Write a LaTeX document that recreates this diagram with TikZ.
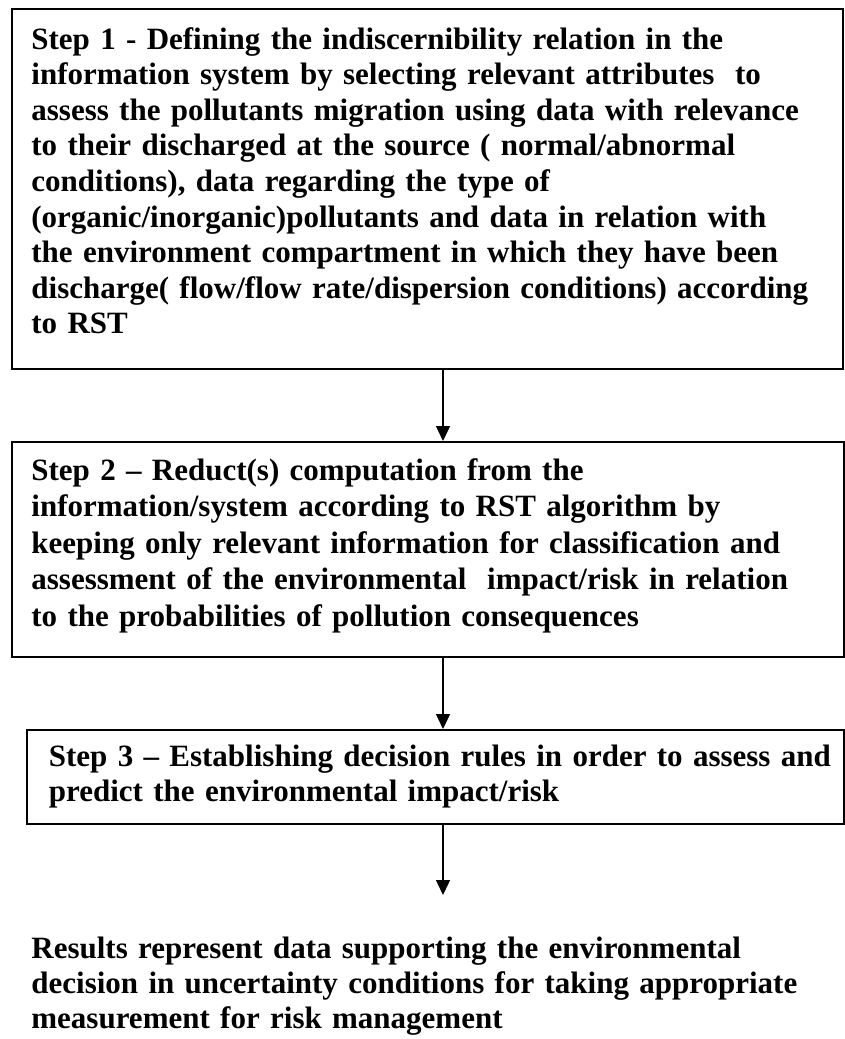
\documentclass[tikz,border=0pt]{standalone}
\usepackage{fontspec}
\setmainfont{Liberation Serif}
\usepackage{tikz}
\usetikzlibrary{arrows.meta, positioning, calc}
\tikzstyle{stepbox} = [draw, rectangle, line width=1pt, inner sep=0pt, anchor=north west]
\tikzset{
  steptext/.style={font=\fontsize{15.5}{#1}\selectfont\bfseries, anchor=base west,
    inner sep=0pt, text width=412pt, align=left},
  steptext/.default=18pt,
  flow/.style={line width=0.7pt, -{Triangle[length=7.5pt, width=7pt]}}
}

\begin{document}
\begin{tikzpicture}[x=0.5pt, y=-0.5pt]
    \useasboundingbox (0,0) rectangle (845,1039);

    % blocks
    \node[stepbox, minimum width=415.6pt, minimum height=180.3pt] (s1) at (10.7,7.5) {};
    \node[stepbox, minimum width=416.2pt, minimum height=107.5pt] (s2) at (10.7,441) {};
    \node[stepbox, minimum width=408.7pt, minimum height=47pt] (s3) at (26,729) {};

    % texts
    \node[steptext=17.8pt] (s1text) at (31,49)
    {Step 1 - Defining the indiscernibility relation in the\\
     information system by selecting relevant attributes~ to\\
     assess the pollutants migration using data with relevance\\
     to their discharged at the source ( normal/abnormal\\
     conditions), data regarding the type of\\
     (organic/inorganic)pollutants and data in relation with\\
     the environment compartment in which they have been\\
     discharge( flow/flow rate/dispersion conditions) according\\
     to RST};
    \node[steptext=18.3pt] (s2text) at (31,480)
    {Step 2 -- Reduct(s) computation from the\\
     information/system according to RST algorithm by\\
     keeping only relevant information for classification and\\
     assessment of the environmental~ impact/risk in relation\\
     to the probabilities of pollution consequences};
    \node[steptext=17.5pt] (s3text) at (48.5,766)
    {Step 3 -- Establishing decision rules in order to assess and\\
     predict the environmental impact/risk};
    \node[steptext=17.5pt] (res) at (31,958)
    {Results represent data supporting the environmental\\
     decision in uncertainty conditions for taking appropriate\\
     measurement for risk management};

    % arrows
    \coordinate (axis) at (443,0);
    \coordinate (resin) at (443,895);
    \draw[flow] (s1.south -| axis) -- (s2.north -| axis);
    \draw[flow] (s2.south -| axis) -- (s3.north -| axis);
    \draw[flow] (s3.south -| axis) -- (resin);
\end{tikzpicture}
\end{document}
